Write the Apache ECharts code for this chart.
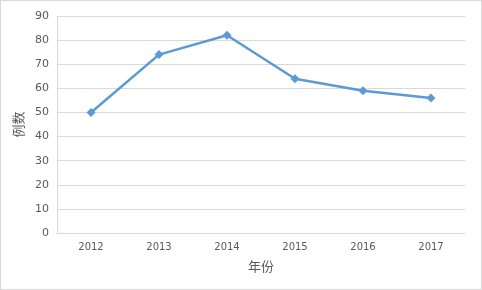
<!DOCTYPE html>
<html><head><meta charset="utf-8">
<script src="https://cdn.jsdelivr.net/npm/echarts@6/dist/echarts.min.js"></script>
<style>
html,body{margin:0;padding:0;background:#fff;}
#c{position:absolute;left:0;top:0;width:480px;height:288px;border:1px solid #d9d9d9;}
</style></head>
<body><div id="c"></div>
<script>
const categories = ['2012','2013','2014','2015','2016','2017'];
const values = [50, 74, 82, 64, 59, 56];
const chart = echarts.init(document.getElementById('c'), null, {renderer:'canvas'});
const labelFont = {color:'#595959', fontSize:11, fontFamily:'DejaVu Sans'};
chart.setOption({
  animation:false,
  grid:{left:56, right:16, top:15, bottom:56},
  xAxis:{
    type:'category', data:categories, boundaryGap:true,
    name:'年份', nameLocation:'middle', nameGap:27,
    nameTextStyle:{color:'#595959', fontSize:13, fontFamily:'Noto Sans CJK SC'},
    axisLine:{lineStyle:{color:'#d9d9d9'}},
    axisTick:{show:false},
    axisLabel:Object.assign({margin:9}, labelFont, {fontSize:10})
  },
  yAxis:{
    type:'value', min:0, max:90, interval:10,
    name:'例数', nameLocation:'middle', nameGap:29, nameRotate:90,
    nameTextStyle:{color:'#595959', fontSize:13, fontFamily:'Noto Sans CJK SC'},
    axisLine:{show:true, lineStyle:{color:'#d9d9d9'}},
    axisTick:{show:false},
    splitLine:{lineStyle:{color:'#d9d9d9'}},
    axisLabel:Object.assign({margin:8}, labelFont)
  },
  series:[{
    type:'line', data:values,
    symbol:'diamond', symbolSize:9,
    lineStyle:{color:'#5b9bd5', width:2.5},
    itemStyle:{color:'#5b9bd5'}
  }]
});
</script></body></html>
